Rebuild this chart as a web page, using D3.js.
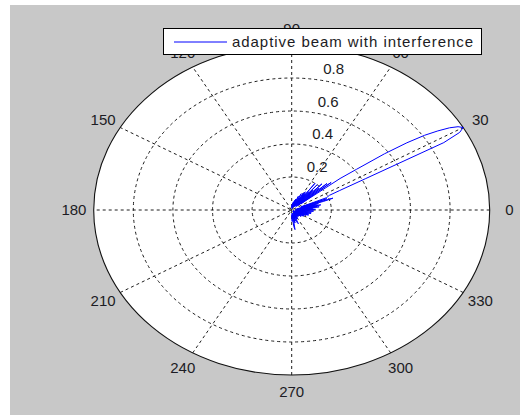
<!DOCTYPE html>
<html>
<head>
<meta charset="utf-8">
<script src="https://cdn.jsdelivr.net/npm/d3@7"></script>
<style>
  html, body { margin: 0; padding: 0; background: #ffffff; }
  svg { display: block; }
  text { font-family: "Liberation Sans", Arial, sans-serif; }
</style>
</head>
<body>
<svg id="chart" width="520" height="415"></svg>
<script>
// Beam pattern samples: look angle (degrees) and normalised magnitude
const angleDeg = [
  -90, -88, -86, -84, -82, -80, -78, -76, -74, -72, -70, -68, -66, -64, -62, -60,
  -58, -56, -54, -52, -50, -48, -46, -44, -42, -40, -38, -36, -34, -32, -30, -28,
  -26, -24, -22, -20, -18, -16, -14, -12, -10, -8, -6, -4, -2,
  0, 1, 2, 3, 4, 5, 6, 7, 8, 9, 10, 11, 12, 13, 14, 15, 16, 17, 18, 19,
  20, 21, 22, 23, 24, 25, 26, 27, 28, 29, 30, 31, 32, 33, 34, 35, 36, 37, 38, 39,
  40, 41, 42, 43, 44, 45, 46, 47, 48, 49, 50, 51, 52, 53, 54, 55, 56, 57, 58, 59,
  60, 62, 64, 66, 68, 70, 72, 74, 76, 78, 80, 82, 84, 86, 88, 90
];
const gain = [
  0.03, 0.07, 0.02, 0.10, 0.12, 0.03, 0.08, 0.02, 0.07, 0.03, 0.08, 0.09, 0.02, 0.06, 0.02, 0.06,
  0.02, 0.05, 0.01, 0.05, 0.02, 0.05, 0.01, 0.05, 0.02, 0.06, 0.01, 0.06, 0.02, 0.07, 0.01, 0.07,
  0.02, 0.08, 0.02, 0.09, 0.03, 0.09, 0.02, 0.10, 0.03, 0.10, 0.02, 0.11, 0.03,
  0.11, 0.04, 0.12, 0.03, 0.10, 0.02, 0.11, 0.04, 0.14, 0.03, 0.13, 0.02, 0.15, 0.04, 0.12, 0.03, 0.14, 0.05, 0.17, 0.22,
  0.06, 0.19, 0.05, 0.19, 0.20, 0.21, 0.27, 0.42, 0.87, 0.97, 1.00, 0.98, 0.94, 0.88, 0.81, 0.71, 0.58, 0.41, 0.31, 0.06,
  0.26, 0.04, 0.24, 0.05, 0.19, 0.03, 0.22, 0.05, 0.16, 0.04, 0.20, 0.03, 0.14, 0.05, 0.20, 0.04, 0.12, 0.03, 0.13, 0.02,
  0.12, 0.03, 0.11, 0.02, 0.09, 0.02, 0.07, 0.02, 0.06, 0.01, 0.05, 0.02, 0.04, 0.01, 0.03, 0.02
];

// Grid definitions
const ringValues = [0.2, 0.4, 0.6, 0.8];
const ringLabels = ["0.2", "0.4", "0.6", "0.8"];
const spokeAngles = [30, 60, 90, 120, 150, 180];
const angleTickValues = [0, 30, 60, 90, 120, 150, 180, 210, 240, 270, 300, 330];
const angleTickLabels = ["0", "30", "60", "90", "120", "150", "180", "210", "240", "270", "300", "330"];
const seriesName = "adaptive beam with interference";

const svg = d3.select("#chart");

// Frame
svg.append("rect")
  .attr("x", 10).attr("y", 5).attr("width", 510).attr("height", 410)
  .attr("fill", "#c8c8c8");

// Polar axes stretched to an ellipse
const cx = 291.7, cy = 210, rx = 198, ry = 165;
const x = d3.scaleLinear().domain([-1, 1]).range([cx - rx, cx + rx]);
const y = d3.scaleLinear().domain([-1, 1]).range([cy + ry, cy - ry]);
const rad = d => d * Math.PI / 180;
const px = (r, a) => x(r * Math.cos(rad(a)));
const py = (r, a) => y(r * Math.sin(rad(a)));

// Plot area
svg.append("ellipse")
  .attr("cx", x(0)).attr("cy", y(0))
  .attr("rx", x(1) - x(0)).attr("ry", y(0) - y(1))
  .attr("fill", "#ffffff");

const grid = svg.append("g")
  .attr("fill", "none")
  .attr("stroke", "#1e1e1e")
  .attr("stroke-width", 1)
  .attr("stroke-dasharray", "3,3");

grid.selectAll("ellipse.ring")
  .data(ringValues)
  .join("ellipse")
  .attr("class", "ring")
  .attr("cx", x(0)).attr("cy", y(0))
  .attr("rx", d => x(d) - x(0))
  .attr("ry", d => y(0) - y(d));

grid.selectAll("line.spoke")
  .data(spokeAngles)
  .join("line")
  .attr("class", "spoke")
  .attr("x1", d => px(-1, d)).attr("y1", d => py(-1, d))
  .attr("x2", d => px(1, d)).attr("y2", d => py(1, d));

// Outer boundary
svg.append("ellipse")
  .attr("cx", x(0)).attr("cy", y(0))
  .attr("rx", x(1) - x(0)).attr("ry", y(0) - y(1))
  .attr("fill", "none")
  .attr("stroke", "#111")
  .attr("stroke-width", 1.1);

// Angle labels
svg.append("g")
  .selectAll("text")
  .data(angleTickValues)
  .join("text")
  .attr("x", d => px(1.1, d))
  .attr("y", d => py(1.1, d))
  .attr("dy", "0.36em")
  .attr("text-anchor", "middle")
  .attr("font-size", 15)
  .attr("fill", "#1c1c24")
  .text((d, i) => angleTickLabels[i]);

// Radial labels
svg.append("g")
  .selectAll("text")
  .data(ringValues)
  .join("text")
  .attr("x", d => px(d + 0.02, 82) + 9)
  .attr("y", d => py(d + 0.02, 82) - 7.5)
  .attr("dy", "0.36em")
  .attr("text-anchor", "start")
  .attr("font-size", 15)
  .attr("fill", "#1c1c24")
  .text((d, i) => ringLabels[i]);

// Pattern trace
const pts = angleDeg.map((a, i) => [px(gain[i], a), py(gain[i], a)]);
svg.append("path")
  .attr("d", d3.line()(pts))
  .attr("fill", "none")
  .attr("stroke", "#0000ff")
  .attr("stroke-width", 1)
  .attr("stroke-linejoin", "miter");

// Legend
const lg = svg.append("g");
lg.append("rect")
  .attr("x", 163.5).attr("y", 28.5).attr("width", 318).attr("height", 26)
  .attr("fill", "#ffffff").attr("stroke", "#000").attr("stroke-width", 1);
lg.append("line")
  .attr("x1", 174).attr("x2", 227).attr("y1", 42).attr("y2", 42)
  .attr("stroke", "#0000ff").attr("stroke-width", 1);
lg.append("text")
  .attr("x", 232).attr("y", 42).attr("dy", "0.36em")
  .attr("font-size", 15)
  .attr("fill", "#1c1c24")
  .attr("textLength", 241)
  .attr("lengthAdjust", "spacing")
  .text(seriesName);
</script>
</body>
</html>
